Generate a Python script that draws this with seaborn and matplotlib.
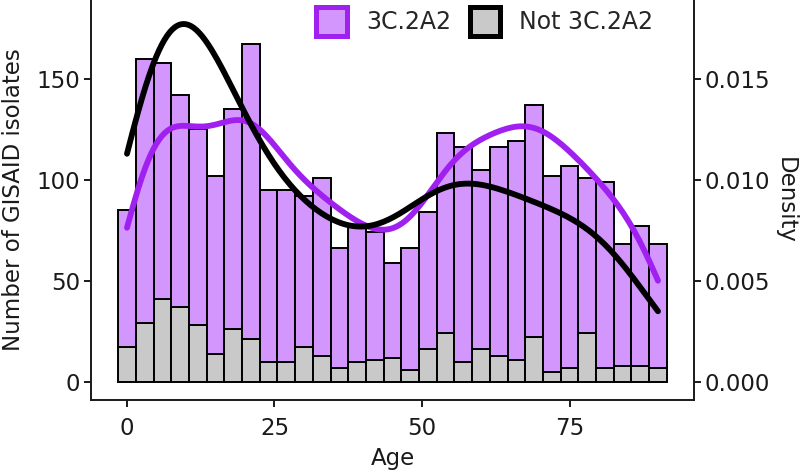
import matplotlib
import matplotlib.pyplot as plt
import pandas as pd
import seaborn as sns
from matplotlib.patches import Patch
from matplotlib.ticker import FormatStrFormatter

matplotlib.use("Agg")

# bin centres (3-year bins) and isolate counts per group
ages = [0, 3, 6, 9, 12, 15, 18, 21, 24, 27, 30, 33, 36, 39, 42, 45,
        48, 51, 54, 57, 60, 63, 66, 69, 72, 75, 78, 81, 84, 87, 90]
clade_counts = [68, 131, 117, 105, 97, 88, 109, 146, 85, 85, 75, 88, 59, 67, 63, 47,
                60, 68, 99, 106, 89, 103, 108, 115, 97, 100, 77, 92, 60, 69, 61]
other_counts = [17, 29, 41, 37, 28, 14, 26, 21, 10, 10, 17, 13, 7, 10, 11, 12,
                6, 16, 24, 10, 16, 13, 11, 22, 5, 7, 24, 7, 8, 8, 7]
labels = ["3C.2A2", "Not 3C.2A2"]

bar_fill = {"3C.2A2": "#D396FD", "Not 3C.2A2": "#C9C9C9"}
line_col = {"3C.2A2": "#A020F0", "Not 3C.2A2": "black"}

df = pd.concat([
    pd.DataFrame({"age": ages, "n": clade_counts, "group": labels[0]}),
    pd.DataFrame({"age": ages, "n": other_counts, "group": labels[1]}),
], ignore_index=True)

sns.set_theme(style="ticks")
plt.rcParams["font.family"] = ["DejaVu Sans"]
text_col = "#1a1a1a"
fs = 16.5

fig = plt.figure(figsize=(8, 4.71), dpi=100)
ax = fig.add_axes([90.7 / 800, 71 / 471, (694.3 - 90.7) / 800, 400 / 471])
ax2 = ax.twinx()

sns.histplot(data=df, x="age", weights="n", hue="group", hue_order=labels, multiple="stack",
             binwidth=3, binrange=(-1.5, 91.5), palette=bar_fill, alpha=1,
             edgecolor="black", linewidth=1.4, legend=False, ax=ax)

for key, bw in [("3C.2A2", 0.36), ("Not 3C.2A2", 0.5)]:
    sns.kdeplot(data=df[df.group == key], x="age", weights="n", bw_adjust=bw, cut=0,
                ax=ax2, color=line_col[key], linewidth=4.2)

ax.set_xlim(-6.15, 96.15)
ax.set_ylim(-9, 189)
ax2.set_ylim(-0.0009, 0.0189)
ax.set_xticks([0, 25, 50, 75])
ax.set_yticks([0, 50, 100, 150])
ax2.set_yticks([0, 0.005, 0.010, 0.015])
ax2.yaxis.set_major_formatter(FormatStrFormatter("%.3f"))

ax.set_xlabel("Age", fontsize=fs, color=text_col, labelpad=5)
ax.set_ylabel("Number of GISAID isolates", fontsize=fs, color=text_col, labelpad=8)
ax2.set_ylabel("Density", fontsize=fs, rotation=270, labelpad=19, color=text_col)

for a in (ax, ax2):
    a.tick_params(labelsize=fs, width=1.4, length=5, colors=text_col, pad=2.5)
    for s in a.spines.values():
        s.set_linewidth(1.4)
        s.set_color(text_col)
    a.spines["top"].set_visible(False)
ax.tick_params(axis="x", pad=7)
ax.spines["right"].set_visible(False)
ax2.spines["left"].set_visible(False)
ax2.spines["bottom"].set_visible(False)

handles = [Patch(facecolor=bar_fill[k], edgecolor=line_col[k], linewidth=3.6) for k in labels]
fig.legend(handles, labels, loc="upper right", bbox_to_anchor=(658 / 800, 1 - 2 / 471), ncol=2,
           frameon=False, fontsize=17, handlelength=1.3, handleheight=1.5,
           columnspacing=0.8, handletextpad=0.8, borderpad=0.2, borderaxespad=0)

fig.savefig("out.png", dpi=100)
